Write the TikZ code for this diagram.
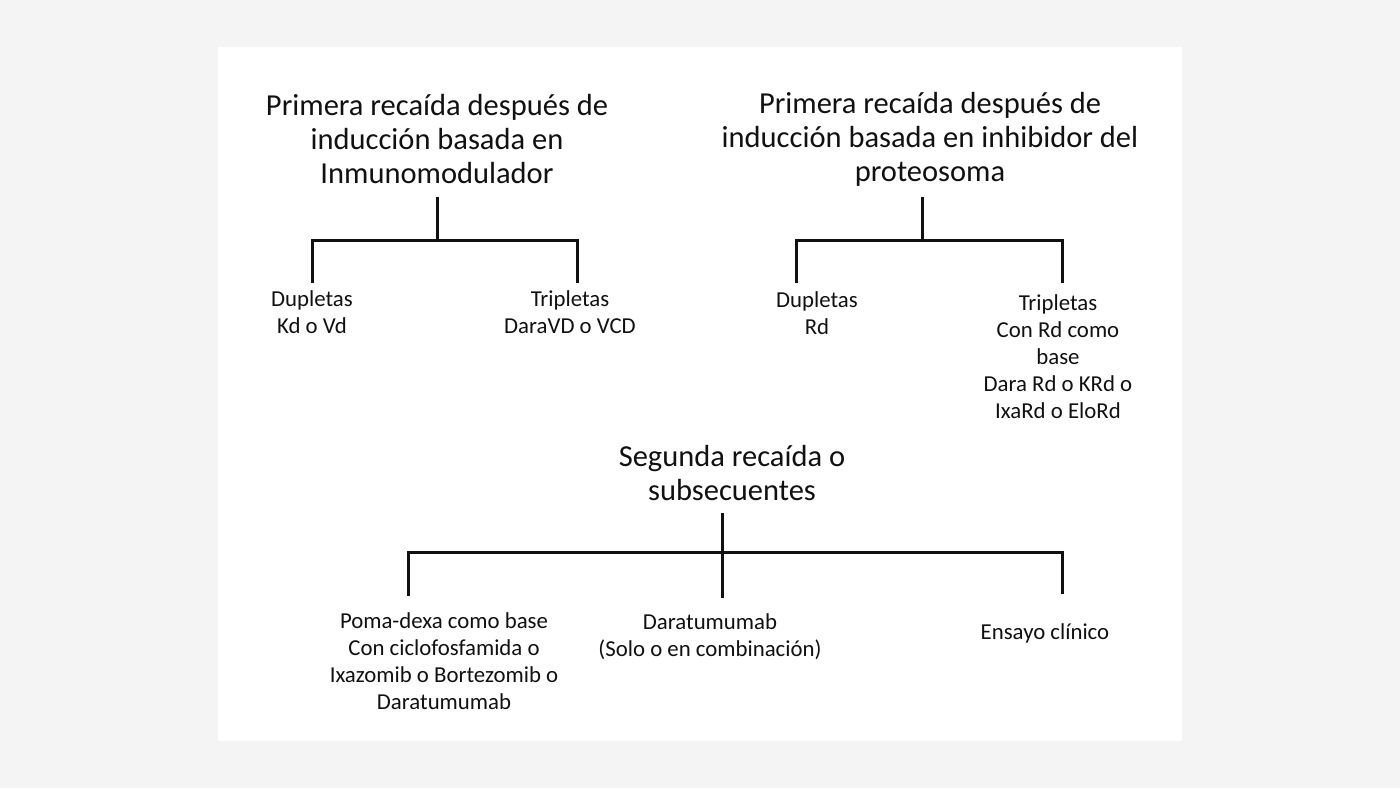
\documentclass[tikz,border=0pt]{standalone}
\usepackage{fontspec}
\setmainfont{Carlito}
\definecolor{bggray}{HTML}{F4F4F4}
\definecolor{ink}{HTML}{111111}
\begin{document}
\begin{tikzpicture}[x=1pt,y=-1pt,
  title/.style={align=center,inner sep=0pt,text=ink,font=\fontsize{30.5}{34}\selectfont},
  leaf/.style={align=center,inner sep=0pt,text=ink,font=\fontsize{22.8}{27}\selectfont},
  tree/.style={draw=ink,line width=3pt,line cap=rect}]
\useasboundingbox (0,0) rectangle (1400,788);
\fill[bggray] (0,0) rectangle (1400,788);
\fill[white] (218,47) rectangle (1182,741);
% titles
\node[title] (t1) at (437,139) {Primera recaída después de\\inducción basada en\\Inmunomodulador};
\node[title] (t2) at (930,139) {Primera recaída después de\\inducción basada en inhibidor del\\proteosoma};
\node[title] (t3) at (732,473) {Segunda recaída o\\subsecuentes};
% leaves
\node[leaf] (a1) at (312,312) {Dupletas\\Kd o Vd};
\node[leaf] (a2) at (570,312) {Tripletas\\DaraVD o VCD};
\node[leaf] (b1) at (817,313) {Dupletas\\Rd};
\node[leaf] (b2) at (1058,357) {Tripletas\\Con Rd como\\base\\Dara Rd o KRd o\\IxaRd o EloRd};
\node[leaf] (c1) at (444,661) {Poma-dexa como base\\Con ciclofosfamida o\\Ixazomib o Bortezomib o\\Daratumumab};
\node[leaf] (c2) at (710,637) {Daratumumab\\(Solo o en combinación)};
\node[leaf] (c3) at (1045,633) {Ensayo clínico};
% connector points
\coordinate (t1s) at (437,198);
\coordinate (j1) at (437,240);
\coordinate (a1t) at (312,283);
\coordinate (a2t) at (577,283);
\coordinate (t2s) at (922,198);
\coordinate (j2) at (922,240);
\coordinate (b1t) at (796,283);
\coordinate (b2t) at (1062,283);
\coordinate (t3s) at (722,514);
\coordinate (j3) at (722,552);
\coordinate (c1t) at (408,596);
\coordinate (c2t) at (722,596);
\coordinate (c3t) at (1062,594);
% connectors
\draw[tree] (t1s) -- (j1);
\draw[tree,line cap=butt] (a1t) -- (a1t |- j1) -- (a2t |- j1) -- (a2t);
\draw[tree] (t2s) -- (j2);
\draw[tree,line cap=butt] (b1t) -- (b1t |- j2) -- (b2t |- j2) -- (b2t);
\draw[tree] (t3s) -- (c2t);
\draw[tree,line cap=butt] (c1t) -- (c1t |- j3) -- (c3t |- j3) -- (c3t);
\end{tikzpicture}
\end{document}
